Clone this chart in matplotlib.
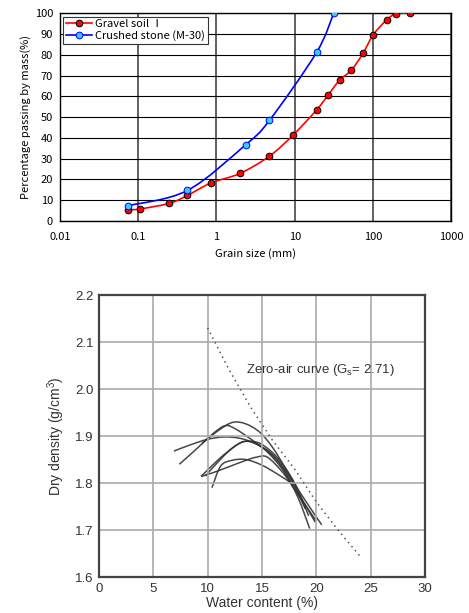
import numpy as np
import matplotlib
matplotlib.use("Agg")
import matplotlib.pyplot as plt
from matplotlib.path import Path
from matplotlib.patches import PathPatch

# grain size distribution (mm, % passing)
gravel_size = [0.075, 0.106, 0.25, 0.425, 0.85, 2.0, 4.75, 9.5, 19, 26.5, 37.5, 53, 75, 100, 150, 200, 300]
gravel_pass = [5.4, 5.8, 8.5, 12.3, 18.3, 22.9, 31.2, 41.3, 53.4, 60.4, 67.8, 72.6, 80.8, 89.4, 96.8, 99.8, 100]
crushed_size = [0.075, 0.425, 2.36, 4.75, 19, 31.5]
crushed_pass = [7.4, 14.7, 36.7, 48.4, 81.1, 100]
size_ticks = [0.01, 0.1, 1, 10, 100, 1000]
size_labels = ["0.01", "0.1", "1", "10", "100", "1000"]

# compaction curves (water content %, dry density g/cm3)
comp_w = [
    [6.9, 8.5, 10, 11.5, 13, 14.5, 16, 17.5, 18.7, 19.9],
    [7.4, 9, 10.5, 11.6, 12.5, 14, 15.5, 17, 18.3, 19.4],
    [9.5, 11, 12.3, 13.5, 14.8, 16, 17.2, 18.5, 20.5],
    [9.4, 11, 12.5, 13.6, 15, 16.5, 18, 19.0],
    [9.4, 10.5, 12, 13.5, 14.5, 15.5, 17, 18.5, 20.0],
    [10.4, 11.2, 12.2, 13.5, 15, 16.5, 17.7],
    [9.8, 11.5, 12.8, 13.8, 15, 16.5, 18, 19.3],
]
comp_rho = [
    [1.868, 1.882, 1.893, 1.898, 1.895, 1.883, 1.86, 1.815, 1.765, 1.717],
    [1.840, 1.873, 1.905, 1.922, 1.916, 1.893, 1.866, 1.825, 1.77, 1.703],
    [1.885, 1.912, 1.929, 1.926, 1.908, 1.875, 1.83, 1.78, 1.711],
    [1.814, 1.850, 1.878, 1.889, 1.876, 1.845, 1.79, 1.745],
    [1.814, 1.822, 1.835, 1.848, 1.855, 1.855, 1.82, 1.77, 1.719],
    [1.790, 1.836, 1.848, 1.850, 1.838, 1.818, 1.800],
    [1.815, 1.858, 1.883, 1.889, 1.882, 1.852, 1.800, 1.730],
]
zero_air_w = [10, 12, 14, 16, 18, 20, 22, 24]
zero_air_rho = [2.13, 2.04, 1.96, 1.89, 1.83, 1.76, 1.70, 1.645]

plt.rcParams["mathtext.fontset"] = "custom"
plt.rcParams["mathtext.rm"] = "Liberation Sans"
plt.rcParams["mathtext.it"] = "Liberation Sans"

jp = ["Noto Sans CJK JP", "DejaVu Sans"]
arial = ["Liberation Sans", "DejaVu Sans"]


def smooth_path(xs, ys, logx=False):
    # Catmull-Rom style bezier through the points (like Excel smoothed lines)
    lx = np.log10(xs) if logx else np.asarray(xs, float)
    ys = np.asarray(ys, float)
    n = len(lx)
    verts = [(lx[0], ys[0])]
    codes = [Path.MOVETO]
    for i in range(n - 1):
        p0 = (lx[max(i - 1, 0)], ys[max(i - 1, 0)])
        p1 = (lx[i], ys[i])
        p2 = (lx[i + 1], ys[i + 1])
        p3 = (lx[min(i + 2, n - 1)], ys[min(i + 2, n - 1)])
        c1 = (p1[0] + (p2[0] - p0[0]) / 6, p1[1] + (p2[1] - p0[1]) / 6)
        c2 = (p2[0] - (p3[0] - p1[0]) / 6, p2[1] - (p3[1] - p1[1]) / 6)
        verts += [c1, c2, p2]
        codes += [Path.CURVE4] * 3
    if logx:
        verts = [(10 ** vx, vy) for vx, vy in verts]
    return Path(verts, codes)


fig = plt.figure(figsize=(4.69, 6.13), dpi=100)

# ---- top: grain size curves
ax1 = fig.add_axes([0.128, 0.6395, 0.834, 0.339])
ax1.set_xscale("log")
ax1.set_xlim(0.01, 1000)
ax1.set_ylim(0, 100)

for xs, ys, lc, fc, ec, name in [
    (gravel_size, gravel_pass, "red", "red", "black", "Gravel soil Ⅰ"),
    (crushed_size, crushed_pass, "blue", "#33ccff", "blue", "Crushed stone (M-30)"),
]:
    ax1.add_patch(PathPatch(smooth_path(xs, ys, logx=True), fill=False, edgecolor=lc, lw=1.2, zorder=3))
    ax1.plot(xs, ys, ls="none", marker="o", ms=4.8, mfc=fc, mec=ec, mew=0.7, zorder=4)
    ax1.plot([], [], color=lc, lw=1.2, marker="o", ms=4.8, mfc=fc, mec=ec, mew=0.7, label=name)

ax1.set_xticks(size_ticks)
ax1.set_xticklabels(size_labels)
ax1.xaxis.set_minor_locator(matplotlib.ticker.NullLocator())
ax1.set_yticks(range(0, 101, 10))
ax1.tick_params(length=0, labelsize=8, pad=8)
ax1.tick_params(axis="y", pad=5)
for lab in ax1.get_xticklabels() + ax1.get_yticklabels():
    lab.set_family(jp)
ax1.grid(axis="y", color="black", lw=0.8)
ax1.grid(axis="x", color="#555555", lw=1.3)
for s in ax1.spines.values():
    s.set_color("black")
    s.set_linewidth(1.0)
ax1.set_xlabel("Grain size (mm)", family=jp, fontsize=8, labelpad=4)
ax1.set_ylabel("Percentage passing by mass(%)", family=jp, fontsize=8, labelpad=3)
leg = ax1.legend(loc="upper left", prop={"family": jp, "size": 8}, fancybox=False,
                 edgecolor="#333333", framealpha=1, handlelength=2.3,
                 borderaxespad=0.3, borderpad=0.25, labelspacing=0.1, handletextpad=0.3)
leg.get_frame().set_linewidth(0.8)

# ---- bottom: compaction curves
ax2 = fig.add_axes([0.211, 0.0587, 0.695, 0.460])
ax2.set_xlim(0, 30)
ax2.set_ylim(1.6, 2.2)
for w, r in zip(comp_w, comp_rho):
    ax2.add_patch(PathPatch(smooth_path(w, r), fill=False, edgecolor="#333333", lw=1.1, alpha=0.9))
ax2.plot(zero_air_w, zero_air_rho, color="#555555", lw=1.1, ls=(0, (1, 2.5)))
ax2.text(13.5, 2.04, "Zero-air curve (G$_{\\rm s}$= 2.71)", family=arial,
         fontsize=9.5, color="#333333", va="center")
ax2.set_xticks(range(0, 31, 5))
ax2.set_yticks([1.6, 1.7, 1.8, 1.9, 2.0, 2.1, 2.2])
ax2.set_yticklabels(["1.6", "1.7", "1.8", "1.9", "2.0", "2.1", "2.2"])
ax2.tick_params(length=0, labelsize=9.5, labelcolor="#333333", pad=4)
for lab in ax2.get_xticklabels() + ax2.get_yticklabels():
    lab.set_family(arial)
ax2.grid(color="#aaaaaa", lw=1.2)
for s in ax2.spines.values():
    s.set_color("#444444")
    s.set_linewidth(1.6)
ax2.set_xlabel("Water content (%)", family=arial, fontsize=10, color="#333333", labelpad=1)
ax2.set_ylabel("Dry density (g/cm$^3$)", family=arial, fontsize=10, color="#333333", labelpad=6)

fig.savefig("out.png", dpi=100)
